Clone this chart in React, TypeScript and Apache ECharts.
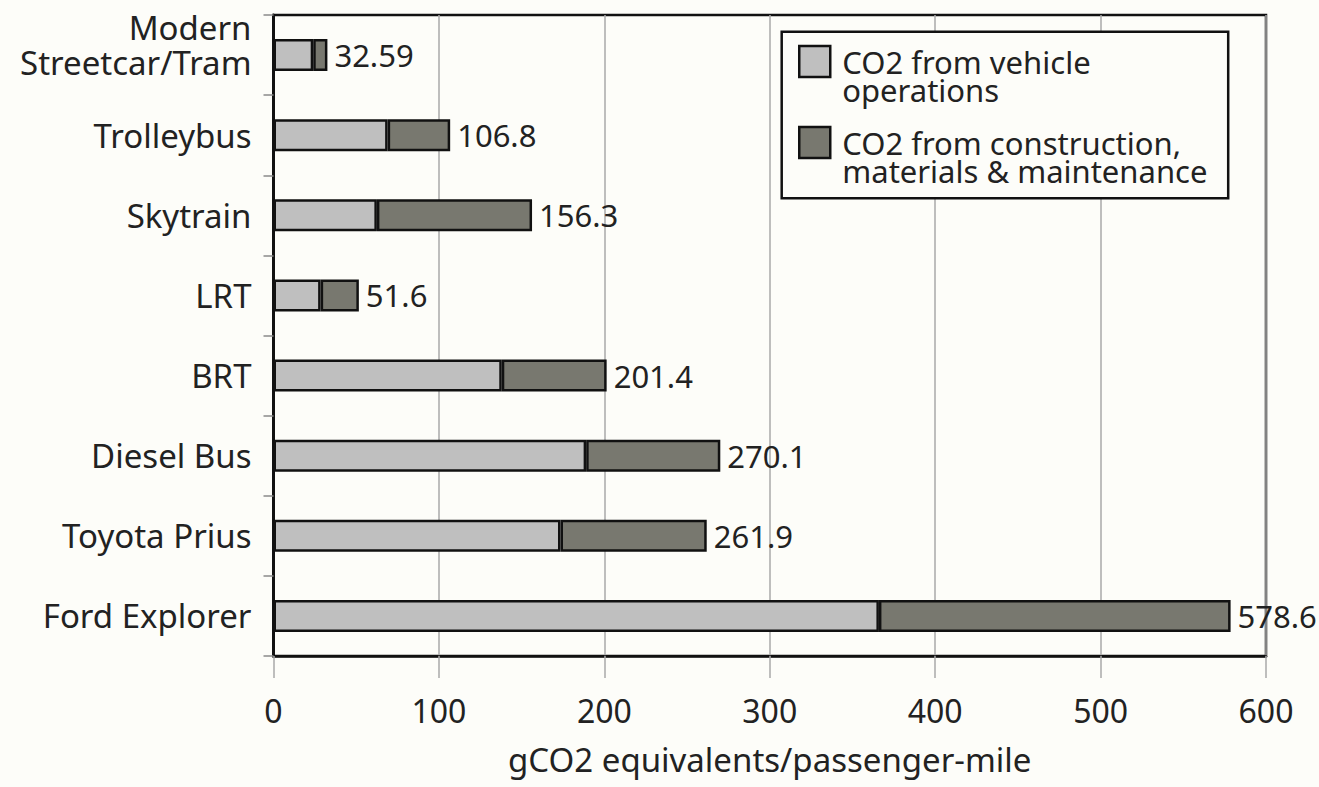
import React, { useEffect, useRef } from "react";
import * as echarts from "echarts";

const categories = [
  "Modern\nStreetcar/Tram",
  "Trolleybus",
  "Skytrain",
  "LRT",
  "BRT",
  "Diesel Bus",
  "Toyota Prius",
  "Ford Explorer",
];
const seriesNames = [
  "CO2 from vehicle\noperations",
  "CO2 from construction,\nmaterials & maintenance",
];
const operations = [24, 69, 62.5, 28.5, 138, 189, 173.5, 366];
const construction = [8.59, 37.8, 93.8, 23.1, 63.4, 81.1, 88.4, 212.6];
const totals = ["32.59", "106.8", "156.3", "51.6", "201.4", "270.1", "261.9", "578.6"];
const xMin = 0;
const xMax = 600;
const xInterval = 100;
const xAxisTitle = "gCO2 equivalents/passenger-mile";

const BG = "#fdfdf9";
const INK = "#222222";
const FONT = "Noto Sans";

export default function App() {
  const ref = useRef<HTMLDivElement>(null);
  useEffect(() => {
    if (!ref.current) return;
    const chart = echarts.init(ref.current, undefined, { renderer: "svg" });
    const option: any = {
      animation: false,
      backgroundColor: BG,
      textStyle: { fontFamily: FONT, color: INK },
      grid: {
        left: 273.5,
        right: 53,
        top: 15,
        bottom: 131,
        show: true,
        borderColor: "#111",
        borderWidth: 2.5,
        backgroundColor: "transparent",
      },
      xAxis: {
        type: "value",
        min: xMin,
        max: xMax,
        interval: xInterval,
        name: xAxisTitle,
        nameLocation: "middle",
        nameGap: 87,
        nameTextStyle: { fontSize: 33, color: INK, fontFamily: FONT },
        axisLine: { show: true, lineStyle: { color: "#111", width: 2.5 } },
        axisTick: { show: true, length: 22, lineStyle: { color: "#a8a8a8", width: 1.5 } },
        axisLabel: { fontSize: 32, color: INK, margin: 38, fontFamily: FONT },
        splitLine: { show: true, lineStyle: { color: "#a8a8a8", width: 1.5 } },
      },
      yAxis: {
        type: "category",
        inverse: true,
        data: categories,
        axisLine: { show: true, lineStyle: { color: "#111", width: 3 } },
        axisTick: { show: true, length: 10, lineStyle: { color: "#8a8a8a", width: 1.5 } },
        axisLabel: {
          color: INK,
          margin: 22,
          fontFamily: FONT,
          formatter: (v: string) => {
            const lines = v.split("\n").map((s) => "{a|" + s + "}");
            if (lines.length > 1) lines.push("{s| }");
            return lines.join("\n");
          },
          rich: {
            a: { fontSize: 33, lineHeight: 35, color: INK, fontFamily: FONT, align: "right" },
            s: { fontSize: 2, lineHeight: 20 },
          },
        },
        splitLine: { show: false },
      },
      legend: {
        show: true,
        orient: "vertical",
        left: 798,
        top: 17.5,
        padding: 0,
        itemGap: -7,
        itemWidth: 31,
        itemHeight: 31,
        icon: "rect",
        selectedMode: false,
        borderWidth: 0,
        formatter: (name: string) => "\n" + name,
        textStyle: {
          fontSize: 31,
          color: INK,
          lineHeight: 28.5,
          padding: [0, 0, 0, 7],
          fontFamily: FONT,
        },
        itemStyle: { borderColor: "#111", borderWidth: 2.5 },
        data: seriesNames,
      },
      graphic: [
        {
          type: "rect",
          z: 3,
          shape: { x: 781.7, y: 31.7, width: 446.5, height: 166.5 },
          style: { fill: BG, stroke: "#111", lineWidth: 2.5 },
        },
      ],
      series: [
        {
          name: seriesNames[0],
          type: "bar",
          stack: "total",
          barWidth: 32,
          data: operations,
          itemStyle: { color: "#bfbfbf", borderColor: "#111", borderWidth: 2.5 },
        },
        {
          name: seriesNames[1],
          type: "bar",
          stack: "total",
          barWidth: 32,
          data: construction,
          itemStyle: { color: "#78786f", borderColor: "#111", borderWidth: 2.5 },
          label: {
            show: true,
            position: "right",
            distance: 7,
            fontSize: 31,
            color: INK,
            fontFamily: FONT,
            formatter: (p: any) => totals[p.dataIndex],
          },
        },
      ],
    };
    chart.setOption(option);
    return () => chart.dispose();
  }, []);
  return (
    <div
      ref={ref}
      style={{ position: "fixed", left: 0, top: 0, width: 1319, height: 787, background: BG }}
    />
  );
}
